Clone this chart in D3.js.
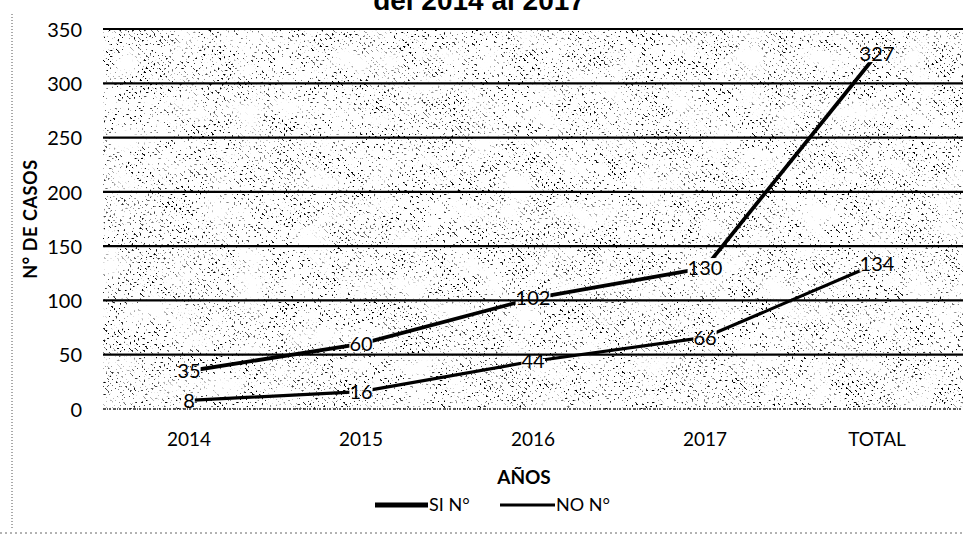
<!DOCTYPE html>
<html>
<head>
<meta charset="utf-8">
<script src="https://cdn.jsdelivr.net/npm/d3@7"></script>
<style>
  html, body { margin: 0; padding: 0; background: #fff; }
  svg { display: block; }
  text { font-family: Lato, "Open Sans", sans-serif; fill: #000; }
</style>
</head>
<body>
<svg id="chart" width="965" height="536"></svg>
<script>
// ---- data ----
const categories = ["2014", "2015", "2016", "2017", "TOTAL"];
const siValues = [35, 60, 102, 130, 327];
const noValues = [8, 16, 44, 66, 134];
const yTicks = [0, 50, 100, 150, 200, 250, 300, 350];
const seriesNames = ["SI N°", "NO N°"];
const titleText = "del 2014 al 2017";
const yTitle = "N° DE CASOS";
const xTitle = "AÑOS";

// ---- layout ----
const W = 965, H = 536;
const plot = { left: 103, right: 963, top: 29, bottom: 409 };

const svg = d3.select("#chart");
const defs = svg.append("defs");

// speckled, diagonally streaked fill used for the plot area
const f = defs.append("filter").attr("id", "speckle")
  .attr("filterUnits", "userSpaceOnUse")
  .attr("x", plot.left).attr("y", plot.top)
  .attr("width", plot.right - plot.left).attr("height", plot.bottom - plot.top);
f.append("feTurbulence").attr("type", "fractalNoise")
  .attr("baseFrequency", "0.5 0.5").attr("numOctaves", 1).attr("seed", 7).attr("result", "fine");
f.append("feColorMatrix").attr("in", "fine").attr("type", "matrix")
  .attr("values", "0 0 0 0 0  0 0 0 0 0  0 0 0 0 0  -20 0 0 0 8.4").attr("result", "dots");
f.append("feTurbulence").attr("type", "fractalNoise")
  .attr("baseFrequency", "0.03 0.04").attr("numOctaves", 2).attr("seed", 3).attr("result", "coarse");
f.append("feColorMatrix").attr("in", "coarse").attr("type", "matrix")
  .attr("values", "0 0 0 0 0  0 0 0 0 0  0 0 0 0 0  3 0 0 0 -0.7").attr("result", "density");
f.append("feComposite").attr("in", "dots").attr("in2", "density").attr("operator", "in").attr("result", "spots");
f.append("feComposite").attr("in", "spots").attr("in2", "SourceGraphic").attr("operator", "in");

// diagonal streak pattern that the speckle is clipped to
const pat = defs.append("pattern").attr("id", "diag")
  .attr("patternUnits", "userSpaceOnUse").attr("width", 4.2).attr("height", 6)
  .attr("patternTransform", "rotate(-45)");
pat.append("rect").attr("width", 1.7).attr("height", 6).attr("fill", "#000");

// ---- scales ----
const x = d3.scaleBand().domain(categories).range([plot.left, plot.right]).padding(0);
const cx = c => x(c) + x.bandwidth() / 2;
const y = d3.scaleLinear().domain([0, 350]).range([plot.bottom, plot.top]);

// ---- background texture ----
svg.append("rect")
  .attr("x", plot.left).attr("y", plot.top)
  .attr("width", plot.right - plot.left).attr("height", plot.bottom - plot.top)
  .attr("fill", "url(#diag)")
  .attr("filter", "url(#speckle)");

// ---- gridlines ----
svg.append("g")
  .selectAll("line")
  .data(yTicks.filter(v => v > 0))
  .join("line")
  .attr("x1", plot.left).attr("x2", plot.right)
  .attr("y1", d => y(d)).attr("y2", d => y(d))
  .attr("stroke", "#000").attr("stroke-width", 2.2);

// baseline
svg.append("line")
  .attr("x1", plot.left).attr("x2", plot.right)
  .attr("y1", y(0)).attr("y2", y(0))
  .attr("stroke", "#222").attr("stroke-width", 1.6)
  .attr("stroke-dasharray", "3 1 1 1 2 2");

// ---- axes ----
const yAxis = d3.axisLeft(y).tickValues(yTicks).tickSize(0).tickPadding(0);
const gy = svg.append("g").attr("transform", `translate(${plot.left - 21},0)`).call(yAxis);
gy.select(".domain").remove();
gy.selectAll("text").style("font-size", "20px").attr("dy", "0.36em");

const xAxis = d3.axisBottom(x).tickSize(0).tickPadding(0);
const gx = svg.append("g").attr("transform", `translate(0,${plot.bottom + 30})`).call(xAxis);
gx.select(".domain").remove();
gx.selectAll("text").style("font-size", "19px").attr("dy", "0.36em");

// ---- titles ----
svg.append("text")
  .attr("x", 479).attr("y", 10)
  .attr("text-anchor", "middle")
  .style("font-family", "'Liberation Sans', Arial, sans-serif")
  .style("font-weight", "bold").style("font-size", "28px")
  .text(titleText);

svg.append("text")
  .attr("transform", `translate(37,${(plot.top + plot.bottom) / 2}) rotate(-90)`)
  .attr("text-anchor", "middle")
  .style("font-weight", "bold").style("font-size", "18px")
  .style("letter-spacing", "0.6px")
  .text(yTitle);

svg.append("text")
  .attr("x", 524).attr("y", 477).attr("dy", "0.36em")
  .attr("text-anchor", "middle")
  .style("font-weight", "bold").style("font-size", "19px")
  .text(xTitle);

// ---- series ----
const series = [
  { name: seriesNames[0], values: siValues, width: 3.8 },
  { name: seriesNames[1], values: noValues, width: 3.2 }
];

// data labels first (measured to knock the lines out underneath them)
const labelLayer = svg.append("g");
const boxes = [];
series.forEach(s => {
  s.values.forEach((v, i) => {
    const t = labelLayer.append("text")
      .attr("x", cx(categories[i])).attr("y", y(v)).attr("dy", "0.36em")
      .attr("text-anchor", "middle")
      .style("font-size", "20px")
      .text(v);
    const b = t.node().getBBox();
    boxes.push({ x: b.x, y: b.y + 3, w: b.width, h: b.height - 6 });
  });
});

const mask = defs.append("mask").attr("id", "labelKnockout")
  .attr("maskUnits", "userSpaceOnUse")
  .attr("x", 0).attr("y", 0).attr("width", W).attr("height", H);
mask.append("rect").attr("width", W).attr("height", H).attr("fill", "#fff");
mask.selectAll("rect.k").data(boxes).join("rect").attr("class", "k")
  .attr("x", d => d.x).attr("y", d => d.y).attr("width", d => d.w).attr("height", d => d.h)
  .attr("fill", "#000");

const line = d3.line().x((d, i) => cx(categories[i])).y(d => y(d));
svg.insert("g", () => labelLayer.node())
  .attr("mask", "url(#labelKnockout)")
  .selectAll("path")
  .data(series)
  .join("path")
  .attr("d", d => line(d.values))
  .attr("fill", "none")
  .attr("stroke", "#000")
  .attr("stroke-width", d => d.width)
  .attr("stroke-linejoin", "round");

// ---- legend ----
const legendItems = [
  { name: seriesNames[0], x1: 375, x2: 428, width: 5 },
  { name: seriesNames[1], x1: 500, x2: 555, width: 3.2 }
];
const lg = svg.append("g");
legendItems.forEach(it => {
  lg.append("line")
    .attr("x1", it.x1).attr("x2", it.x2).attr("y1", 505).attr("y2", 505)
    .attr("stroke", "#000").attr("stroke-width", it.width);
  lg.append("text")
    .attr("x", it.x2 + 1).attr("y", 505).attr("dy", "0.36em")
    .style("font-size", "18px")
    .text(it.name);
});

// page edge marks along the left and bottom
svg.append("line").attr("x1", 12).attr("x2", 12).attr("y1", 14).attr("y2", 530)
  .attr("stroke", "#555").attr("stroke-width", 1).attr("stroke-dasharray", "1 2");
svg.append("line").attr("x1", 0).attr("x2", W).attr("y1", 533).attr("y2", 533)
  .attr("stroke", "#666").attr("stroke-width", 1).attr("stroke-dasharray", "2 3");
</script>
</body>
</html>
